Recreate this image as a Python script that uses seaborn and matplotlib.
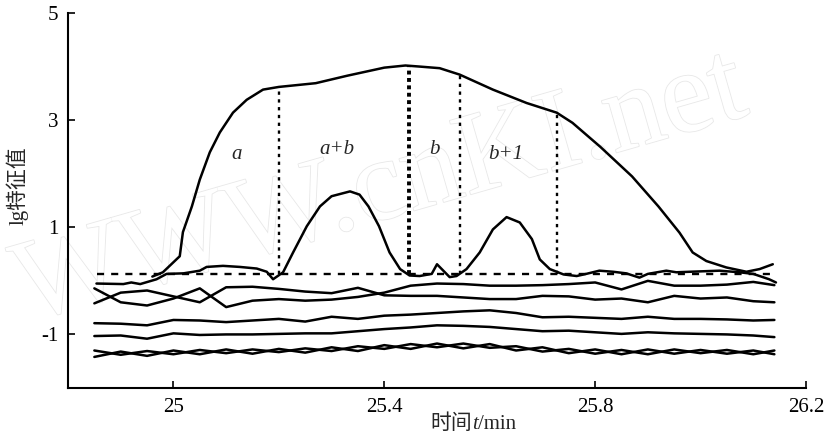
import numpy as np
import pandas as pd
import matplotlib
matplotlib.use("Agg")
import matplotlib.pyplot as plt
import matplotlib.patheffects as pe
from matplotlib.offsetbox import TextArea, HPacker, AnchoredOffsetbox
import seaborn as sns

# ---- data ----
grid_t = [24.85, 24.90, 24.95, 25.00, 25.05, 25.10, 25.15, 25.20, 25.25, 25.30,
          25.35, 25.40, 25.45, 25.50, 25.55, 25.60, 25.65, 25.70, 25.75, 25.80,
          25.85, 25.90, 25.95, 26.00, 26.05, 26.10, 26.14]

line_b = [-0.14, -0.40, -0.46, -0.33, -0.14, -0.49, -0.37, -0.34, -0.37, -0.35,
          -0.30, -0.22, -0.09, -0.05, -0.06, -0.09, -0.09, -0.08, -0.06, -0.03,
          -0.16, 0.00, -0.09, -0.09, -0.07, -0.02, -0.08]
line_c = [-0.42, -0.22, -0.18, -0.29, -0.40, -0.12, -0.11, -0.15, -0.20, -0.23,
          -0.13, -0.27, -0.28, -0.28, -0.31, -0.34, -0.34, -0.28, -0.29, -0.35,
          -0.33, -0.40, -0.28, -0.33, -0.31, -0.38, -0.40]
line_d = [-0.79, -0.80, -0.83, -0.73, -0.74, -0.77, -0.74, -0.71, -0.76, -0.67,
          -0.71, -0.65, -0.63, -0.60, -0.57, -0.55, -0.60, -0.68, -0.67, -0.69,
          -0.71, -0.67, -0.71, -0.71, -0.72, -0.74, -0.73]
line_e = [-1.03, -1.02, -1.08, -0.98, -1.01, -1.00, -1.00, -0.99, -0.98, -0.98,
          -0.94, -0.90, -0.87, -0.83, -0.84, -0.86, -0.90, -0.94, -0.93, -0.96,
          -0.99, -0.96, -0.98, -0.99, -1.00, -1.02, -1.05]
line_f = [-1.30, -1.38, -1.31, -1.37, -1.29, -1.35, -1.28, -1.33, -1.26, -1.31,
          -1.22, -1.27, -1.18, -1.24, -1.17, -1.25, -1.22, -1.32, -1.27, -1.36,
          -1.29, -1.37, -1.28, -1.35, -1.29, -1.37, -1.30]
line_g = [-1.42, -1.32, -1.40, -1.30, -1.37, -1.28, -1.36, -1.27, -1.34, -1.24,
          -1.31, -1.20, -1.27, -1.17, -1.26, -1.18, -1.30, -1.24, -1.35, -1.28,
          -1.37, -1.28, -1.36, -1.29, -1.36, -1.30, -1.37]

# curve with the two peaks (a+b and b+1 zones)
peak_t = [24.854, 24.905, 24.92, 24.937, 24.968, 24.987, 25.019, 25.05, 25.063, 25.094,
          25.126, 25.158, 25.177, 25.189, 25.208, 25.227, 25.253, 25.278, 25.30, 25.335,
          25.353, 25.37, 25.39, 25.41, 25.43, 25.448, 25.467, 25.49, 25.50, 25.524,
          25.537, 25.556, 25.581, 25.606, 25.632, 25.657, 25.68, 25.695, 25.714, 25.74,
          25.765, 25.783, 25.808, 25.834, 25.859, 25.884, 25.90, 25.935, 25.954, 25.98,
          26.036, 26.074, 26.10, 26.13, 26.143]
peak_v = [-0.05, -0.06, -0.03, -0.06, 0.03, 0.13, 0.14, 0.19, 0.26, 0.28,
          0.26, 0.23, 0.17, 0.03, 0.16, 0.53, 1.02, 1.39, 1.58, 1.67,
          1.61, 1.39, 1.02, 0.53, 0.22, 0.10, 0.09, 0.13, 0.31, 0.07,
          0.09, 0.22, 0.53, 0.96, 1.19, 1.09, 0.78, 0.40, 0.22, 0.12,
          0.09, 0.13, 0.19, 0.17, 0.14, 0.06, 0.13, 0.19, 0.16, 0.17,
          0.19, 0.16, 0.13, 0.03, -0.03]

# total (top) curve
total_t = [24.96, 24.98, 25.012, 25.018, 25.035, 25.05, 25.069, 25.088, 25.113, 25.139,
           25.17, 25.20, 25.27, 25.33, 25.40, 25.44, 25.467, 25.505, 25.543, 25.606,
           25.67, 25.727, 25.757, 25.81, 25.87, 25.92, 25.96, 25.985, 26.011, 26.049,
           26.087, 26.112, 26.137]
total_v = [0.08, 0.16, 0.46, 0.91, 1.39, 1.89, 2.40, 2.77, 3.14, 3.38,
           3.57, 3.62, 3.69, 3.83, 3.98, 4.02, 4.00, 3.97, 3.85, 3.57,
           3.32, 3.14, 2.95, 2.50, 1.95, 1.39, 0.90, 0.53, 0.37, 0.25,
           0.17, 0.22, 0.31]

baseline = 0.12
base_span = [24.855, 26.14]
cuts_t = [25.20, 25.446, 25.543, 25.727]
cuts_top = [3.62, 4.02, 3.87, 3.14]
zone_labels = ["a", "a+b", "b", "b+1"]
zone_t = [25.12, 25.31, 25.495, 25.63]
zone_v = [2.35, 2.45, 2.45, 2.35]

# ---- plot ----
sns.set_style("ticks")
plt.rcParams["font.family"] = ["Liberation Serif", "Noto Sans CJK SC"]
plt.rcParams["axes.unicode_minus"] = False
plt.rcParams["xtick.direction"] = "in"
plt.rcParams["ytick.direction"] = "in"

fig = plt.figure(figsize=(8.26, 4.44), dpi=100)
ax = fig.add_axes([68 / 826, 56 / 444, 738 / 826, 375 / 444])
ax.set_zorder(2)
ax.patch.set_alpha(0)

# faint watermark behind the axes
fig.text(0.005, 0.57, "WWW.cnKI.net", fontsize=84, rotation=16, color="white",
         family="Liberation Serif", ha="left", va="center", zorder=0,
         path_effects=[pe.withStroke(linewidth=1.2, foreground="#e8e8e8")])

lw = 1.8
bundle = pd.DataFrame({
    "t": grid_t * 6,
    "v": line_b + line_c + line_d + line_e + line_f + line_g,
    "line": np.repeat(["b", "c", "d", "e", "f", "g"], len(grid_t)),
})
sns.lineplot(data=bundle, x="t", y="v", units="line", estimator=None, sort=False,
             color="black", lw=lw, ax=ax)
sns.lineplot(x=peak_t, y=peak_v, estimator=None, sort=False, color="black", lw=lw, ax=ax)
sns.lineplot(x=total_t, y=total_v, estimator=None, sort=False, color="black", lw=lw, ax=ax)

ax.plot(base_span, [baseline, baseline], color="black", lw=1.7, ls=(0, (3, 3)))
for i, (t, top) in enumerate(zip(cuts_t, cuts_top)):
    if i == 1:
        ax.plot([t, t], [baseline, top], color="black", lw=2.8, ls=(0, (1.0, 0.9)),
                dash_capstyle="butt")
    else:
        ax.plot([t, t], [baseline, top], color="black", lw=1.7, ls=(0, (1.4, 1.9)))

for lab, t, v in zip(zone_labels, zone_t, zone_v):
    ax.text(t, v, lab, fontsize=15, style="italic", ha="center", va="center")

ax.set_xlim(24.8, 26.2)
ax.set_ylim(-2, 5)
ax.set_xticks([25, 25.4, 25.8, 26.2])
ax.set_xticklabels(["25", "25.4", "25.8", "26.2"])
ax.set_yticks([-1, 1, 3, 5])
ax.set_yticklabels(["-1", "1", "3", "5"])
ax.tick_params(labelsize=15, length=5, width=1.2, colors="black", pad=7)
for s in ["top", "right"]:
    ax.spines[s].set_visible(False)
for s in ["left", "bottom"]:
    ax.spines[s].set_linewidth(1.5)
    ax.spines[s].set_color("black")

# x label: 时间 t/min with italic t (built from pieces)
ax.set_xlabel("")
xlab = HPacker(children=[
    TextArea("时间", textprops=dict(fontsize=15, family=["Noto Sans CJK SC"])),
    TextArea("t", textprops=dict(fontsize=15, style="italic", family=["Liberation Serif"])),
    TextArea("/min", textprops=dict(fontsize=15, family=["Liberation Serif"])),
], pad=0, sep=0, align="baseline")
ab = AnchoredOffsetbox(loc="center", child=xlab, frameon=False, pad=0, borderpad=0,
                       bbox_to_anchor=(473 / 826, 1 - 423 / 444),
                       bbox_transform=fig.transFigure)
fig.add_artist(ab)

ax.set_ylabel("lg特征值", fontsize=15)
ax.yaxis.set_label_coords(-0.054, 0.54)

fig.savefig("out.png", dpi=100)
